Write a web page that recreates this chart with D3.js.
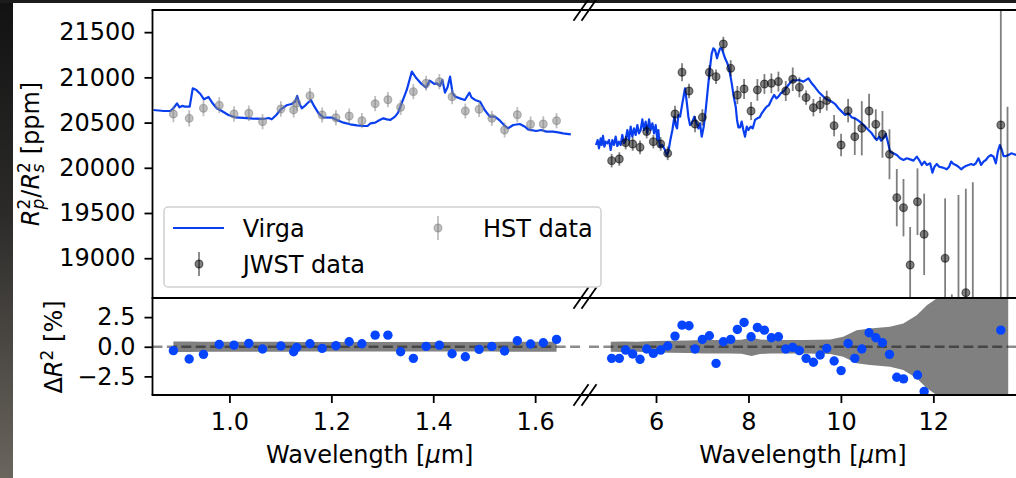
<!DOCTYPE html>
<html><head><meta charset="utf-8">
<script src="https://cdn.jsdelivr.net/npm/d3@7"></script>
<style>
body{margin:0;background:#fff;}
svg text{font-family:"DejaVu Sans";white-space:pre;}
</style>
</head><body>
<svg id="c" width="1016" height="478"></svg>
<script>
// ---------- data ----------
const virgaLeftWl = [0.851,0.871,0.884,0.890,0.897,0.902,0.907,0.913,0.922,0.928,0.935,0.943,0.950,0.959,0.967,0.975,0.985,0.998,1.011,1.027,1.047,1.067,1.077,1.083,1.092,1.101,1.112,1.122,1.129,1.133,1.137,1.142,1.148,1.153,1.160,1.166,1.175,1.184,1.201,1.211,1.224,1.237,1.250,1.263,1.271,1.277,1.286,1.295,1.302,1.309,1.316,1.325,1.331,1.338,1.348,1.358,1.367,1.377,1.386,1.393,1.402,1.407,1.413,1.418,1.423,1.428,1.433,1.438,1.443,1.452,1.462,1.471,1.475,1.482,1.492,1.501,1.511,1.521,1.531,1.539,1.547,1.557,1.570,1.580,1.586,1.602,1.612,1.622,1.635,1.645,1.655,1.670];
const virgaLeftFlux = [20639,20628,20628,20658,20713,20669,20684,20676,20676,20879,20861,20816,20757,20783,20713,20658,20628,20584,20558,20551,20543,20540,20551,20536,20584,20647,20691,20706,20731,20794,20713,20658,20684,20713,20750,20684,20602,20558,20555,20529,20499,20481,20470,20462,20462,20492,20499,20529,20547,20536,20529,20566,20610,20713,20861,21063,20990,20927,20886,20964,20927,20934,20905,20971,20831,20890,21008,20824,20787,20768,20750,20831,20779,20750,20731,20639,20566,20566,20521,20473,20437,20473,20484,20455,20425,20407,20418,20400,20400,20392,20381,20370];

const virgaRightWl = [4.701,4.737,4.766,4.802,4.824,4.853,4.882,4.911,4.947,4.983,5.019,5.055,5.091,5.127,5.163,5.199,5.235,5.271,5.307,5.343,5.380,5.416,5.452,5.488,5.524,5.560,5.596,5.632,5.668,5.704,5.740,5.776,5.812,5.849,5.885,5.921,5.957,5.993,6.029,6.051,6.079,6.137,6.195,6.231,6.267,6.310,6.354,6.397,6.426,6.455,6.483,6.520,6.570,6.628,6.664,6.700,6.736,6.772,6.830,6.880,6.916,6.952,6.989,7.032,7.075,7.118,7.162,7.205,7.241,7.277,7.320,7.349,7.385,7.421,7.458,7.494,7.544,7.587,7.638,7.681,7.724,7.753,7.782,7.818,7.854,7.890,7.926,7.963,7.999,8.049,8.092,8.143,8.193,8.244,8.287,8.337,8.395,8.445,8.503,8.554,8.605,8.648,8.698,8.756,8.807,8.864,8.922,8.966,
  9.009,9.095,9.189,9.297,9.369,9.442,9.514,9.586,9.658,9.730,9.802,9.875,9.947,10.019,10.091,10.163,10.235,10.307,10.380,10.452,10.524,10.596,10.668,10.740,10.776,10.827,10.870,10.921,10.971,11.014,11.065,11.137,11.209,11.281,11.354,11.426,11.498,11.570,11.642,11.693,11.750,11.808,11.859,11.931,11.981,12.024,12.075,12.126,12.183,12.241,12.291,12.342,12.385,12.436,12.486,12.544,12.602,12.652,12.703,12.760,12.818,12.869,12.919,12.977,13.035,13.085,13.136,13.193,13.251,13.302,13.352,13.395,13.439,13.482,13.518,13.569,13.626,13.684,13.735,13.792];
const virgaRightFlux = [20252,20307,20215,20326,20252,20352,20234,20289,20270,20307,20197,20307,20252,20344,20241,20289,20252,20363,20270,20307,20418,20307,20455,20344,20436,20363,20473,20381,20418,20536,20418,20510,20381,20536,20418,20492,20381,20473,20307,20418,20234,20252,20197,20141,20178,20307,20418,20565,20473,20436,20584,20565,20713,20879,20731,20565,20473,20492,20565,20492,20436,20492,20344,20455,20639,20860,21082,21266,21321,21303,21211,21266,21321,21321,21266,21211,21155,21082,20934,20787,20676,20529,20447,20447,20510,20418,20344,20455,20418,20455,20436,20529,20547,20558,20602,20639,20676,20694,20757,20805,20768,20787,20824,20842,20879,20916,20953,20971,
  20965,20971,20953,20989,20934,20890,20842,20805,20768,20750,20731,20705,20658,20621,20584,20602,20558,20547,20521,20492,20455,20418,20381,20326,20307,20344,20300,20326,20374,20289,20178,20160,20141,20105,20086,20105,20093,20079,20123,20086,20031,20068,20031,20049,19946,20012,20042,20012,20005,19994,19983,20012,20068,20042,20031,20012,19983,20005,20020,20031,20042,20031,20049,20105,20031,20068,20086,20123,20141,20123,20049,20178,20252,20197,20130,20130,20141,20160,20152,20141];

const hstWl = [0.890,0.921,0.949,0.980,1.009,1.038,1.065,1.101,1.126,1.132,1.158,1.182,1.209,1.235,1.260,1.286,1.311,1.336,1.361,1.386,1.412,1.437,1.463,1.490,1.515,1.540,1.565,1.591,1.616,1.642];
const hstFlux = [20595,20547,20658,20691,20595,20603,20510,20650,20640,20715,20798,20584,20554,20573,20521,20709,20753,20669,20842,20935,20952,20786,20628,20647,20547,20418,20587,20481,20484,20521];
const hstErr = [90,90,88,88,86,86,85,85,85,85,84,84,84,84,84,84,84,84,84,84,84,84,84,84,84,84,85,85,85,85];
const hstResid = [-0.33,-1.03,-0.64,0.20,0.14,0.28,-0.19,0.06,-0.42,-0.05,0.25,-0.14,0.09,0.42,0.25,0.98,0.98,-0.42,-0.98,0.03,0.14,-0.59,-0.84,-0.22,0.03,-0.36,0.51,0.23,0.34,0.62];

const jwstWl = [5.040,5.206,5.343,5.495,5.654,5.798,5.942,6.101,6.253,6.411,6.563,6.714,6.844,7.003,7.154,7.299,7.457,7.616,7.760,7.905,8.056,8.193,8.345,8.496,8.648,8.807,8.958,9.102,9.247,9.405,9.550,9.694,9.853,10.004,10.156,10.300,10.452,10.610,10.755,10.899,11.051,11.209,11.354,11.498,11.657,11.801,12.255,12.400,12.544,12.703,12.854,13.460,13.605];
const jwstFlux = [20079,20097,20278,20263,20226,20400,20289,20263,20160,20595,21056,20849,20484,20558,21056,21008,21369,21100,20805,20872,20628,20861,20927,20934,20953,20849,20979,20890,20776,20665,20695,20743,20466,20252,20632,20344,20437,20628,20481,20370,20149,19670,19559,18925,19625,19264,18999,17900,18200,18619,18300,20473,18200];
const jwstErr = [75,75,75,75,75,75,75,75,75,90,100,80,90,90,80,80,80,90,100,110,100,120,110,110,110,110,130,110,80,96,90,110,118,125,130,203,300,190,166,258,276,317,317,420,369,450,663,700,1500,1150,1540,2200,2476];
const jwstResid = [-0.98,-0.98,-0.28,-0.61,-1.06,-0.19,-0.56,-0.28,0.06,0.90,1.82,1.77,-0.19,0.62,0.93,-1.40,0.42,0.62,1.46,2.05,0.84,1.63,1.40,0.76,0.84,-0.19,-0.05,-0.33,-0.98,-1.31,-0.70,-0.14,-1.20,-2.01,0.28,-0.98,-0.19,1.18,0.76,0.34,-0.64,-2.57,-2.71,-5.6,-2.38,-3.78,-5.0,-10.5,-9.0,-7.0,-8.6,1.40,-9.9];

// JWST uncertainty envelope in the residual panel (% of model)
const jwstBandWl  = [5.02,5.30,5.58,6.00,6.30,6.70,7.02,7.60,7.85,8.07,8.25,8.47,9.19,9.77,10.05,10.34,10.63,11.06,11.35,11.64,11.86,12.07,12.29,13.62];
const jwstBandPct = [0.42,0.45,0.42,0.48,0.50,0.52,0.56,0.56,0.60,0.78,0.62,0.56,0.56,0.62,0.84,1.40,1.54,1.68,1.96,2.66,3.50,4.06,6.00,6.00];

const yTicksTop = [19000,19500,20000,20500,21000,21500];
const yTicksBot = [-2.5,0.0,2.5];
const xTicksLeft = [1.0,1.2,1.4,1.6];
const xTicksRight = [6,8,10,12];

const legendLabels = ["Virga","JWST data","HST data"];
const xLabel = ["Wavelength [","μ","m]"];

// ---------- layout ----------
const svg = d3.select("#c");
const FS = 24, FSS = 17;
const LINE_C = "#0a3ff0", DOT_C = "#0645ff";
const PL = {x0:152.5, x1:581}, PR = {x0:589, x1:1017};
const TOP = {y0:10, y1:298}, BOT = {y0:298.5, y1:395};

const xL = d3.scaleLinear().domain([0.849,1.690]).range([PL.x0,PL.x1]);
const xR = d3.scaleLinear().domain([4.55,13.81]).range([PR.x0,PR.x1]);
const yT = d3.scaleLinear().domain([18560,21745]).range([TOP.y1,TOP.y0]);
const yB = d3.scaleLinear().domain([-4.07,4.07]).range([BOT.y1,BOT.y0]);

const defs = svg.append("defs");
const grad = defs.append("linearGradient").attr("id","bg").attr("x1",0).attr("y1",0).attr("x2",0).attr("y2",1);
grad.append("stop").attr("offset","0%").attr("stop-color","#121212");
grad.append("stop").attr("offset","45%").attr("stop-color","#2c2b2a");
grad.append("stop").attr("offset","100%").attr("stop-color","#6a655d");
svg.append("rect").attr("x",0).attr("y",0).attr("width",13).attr("height",478).attr("fill","url(#bg)");
svg.append("rect").attr("x",0).attr("y",0).attr("width",1016).attr("height",3).attr("fill","#1c1c1c");

function clip(id,p,r){
  defs.append("clipPath").attr("id",id).append("rect")
    .attr("x",p.x0).attr("y",r.y0).attr("width",p.x1-p.x0).attr("height",r.y1-r.y0);
}
clip("cTL",PL,TOP); clip("cTR",PR,TOP); clip("cBL",PL,BOT); clip("cBR",PR,BOT);

const gTL = svg.append("g").attr("clip-path","url(#cTL)");
const gTR = svg.append("g").attr("clip-path","url(#cTR)");
const gBL = svg.append("g").attr("clip-path","url(#cBL)");
const gBR = svg.append("g").attr("clip-path","url(#cBR)");

// ---------- top panel ----------
function modelLine(g,x,wl,fl){
  g.append("path").datum(wl.map((w,i)=>[w,fl[i]]))
   .attr("fill","none").attr("stroke",LINE_C).attr("stroke-width",2.2).attr("stroke-linejoin","round")
   .attr("d",d3.line().x(d=>x(d[0])).y(d=>yT(d[1])));
}
function errPoints(g,x,wl,fl,er,col,r){
  const data = wl.map((w,i)=>({w,f:fl[i],e:er[i]}));
  const gg = g.append("g");
  gg.selectAll("line").data(data).join("line")
    .attr("x1",d=>x(d.w)).attr("x2",d=>x(d.w))
    .attr("y1",d=>yT(d.f-d.e)).attr("y2",d=>yT(d.f+d.e))
    .attr("stroke",col).attr("stroke-opacity",0.5).attr("stroke-width",1.8);
  gg.selectAll("circle").data(data).join("circle")
    .attr("cx",d=>x(d.w)).attr("cy",d=>yT(d.f)).attr("r",r)
    .attr("fill",col).attr("fill-opacity",0.5)
    .attr("stroke",col).attr("stroke-opacity",0.5).attr("stroke-width",1.2);
}
modelLine(gTL,xL,virgaLeftWl,virgaLeftFlux);
modelLine(gTR,xR,virgaRightWl,virgaRightFlux);
errPoints(gTL,xL,hstWl,hstFlux,hstErr,"#808080",3.9);
errPoints(gTR,xR,jwstWl,jwstFlux,jwstErr,"#000",3.9);

// ---------- residual panel ----------
const bandL = hstWl.map((w,i)=>({w,p:hstErr[i]/hstFlux[i]*100}));
const bandR = jwstBandWl.map((w,i)=>({w,p:jwstBandPct[i]}));
function band(g,x,d){
  g.append("path").datum(d).attr("fill","#808080")
   .attr("d",d3.area().x(v=>x(v.w)).y0(v=>yB(-v.p)).y1(v=>yB(v.p)));
}
band(gBL,xL,bandL); band(gBR,xR,bandR);
function zeroLine(g,p){
  g.append("line").attr("x1",p.x0).attr("x2",p.x1).attr("y1",yB(0)).attr("y2",yB(0))
   .attr("stroke","#000").attr("stroke-opacity",0.45).attr("stroke-width",2.6).attr("stroke-dasharray","10,4.4");
}
zeroLine(gBL,PL); zeroLine(gBR,PR);
function dots(g,x,wl,rs){
  g.selectAll("circle.r").data(wl.map((w,i)=>({w,r:rs[i]}))).join("circle").attr("class","r")
   .attr("cx",d=>x(d.w)).attr("cy",d=>yB(d.r)).attr("r",4.7).attr("fill",DOT_C);
}
dots(gBL,xL,hstWl,hstResid); dots(gBR,xR,jwstWl,jwstResid);

// ---------- axes ----------
function styleAxis(g){
  g.select(".domain").remove();
  g.selectAll(".tick line").attr("stroke","#000").attr("stroke-width",1.8);
  g.selectAll(".tick text").attr("font-family","DejaVu Sans").attr("font-size",FS).attr("fill","#000");
}
svg.append("g").attr("transform",`translate(${PL.x0},0)`)
  .call(d3.axisLeft(yT).tickValues(yTicksTop).tickFormat(d3.format("d")).tickSize(8).tickPadding(9)).call(styleAxis);
svg.append("g").attr("transform",`translate(${PL.x0},0)`)
  .call(d3.axisLeft(yB).tickValues(yTicksBot).tickFormat(d3.format(".1f")).tickSize(8).tickPadding(9)).call(styleAxis);
svg.append("g").attr("transform",`translate(0,${BOT.y1})`)
  .call(d3.axisBottom(xL).tickValues(xTicksLeft).tickFormat(d3.format(".1f")).tickSize(8).tickPadding(9.5)).call(styleAxis);
svg.append("g").attr("transform",`translate(0,${BOT.y1})`)
  .call(d3.axisBottom(xR).tickValues(xTicksRight).tickFormat(d3.format("d")).tickSize(8).tickPadding(9.5)).call(styleAxis);

// spines
const sp = svg.append("g").attr("stroke","#000").attr("stroke-width",1.8).attr("fill","none");
sp.append("line").attr("x1",PL.x0).attr("x2",PL.x0).attr("y1",TOP.y0).attr("y2",BOT.y1);
[TOP.y0, TOP.y1, BOT.y1].forEach(y=>{
  sp.append("line").attr("x1",PL.x0-0.9).attr("x2",PR.x1).attr("y1",y).attr("y2",y);
});
// break marks
[TOP.y0, TOP.y1, BOT.y1].forEach(y=>{
  [PL.x1, PR.x0].forEach(x=>{
    sp.append("line").attr("x1",x-7.5).attr("y1",y+10.8).attr("x2",x+7.5).attr("y2",y-10.8);
  });
});

// ---------- legend ----------
const lg = svg.append("g");
lg.append("rect").attr("x",164).attr("y",207).attr("width",437).attr("height",80).attr("rx",4)
  .attr("fill","#fff").attr("fill-opacity",0.8).attr("stroke","#d0d0d0").attr("stroke-width",1.5);
lg.append("line").attr("x1",173).attr("x2",224).attr("y1",228).attr("y2",228).attr("stroke",LINE_C).attr("stroke-width",2.2);
function legMarker(cx,cy,col){
  lg.append("line").attr("x1",cx).attr("x2",cx).attr("y1",cy-12).attr("y2",cy+12)
    .attr("stroke",col).attr("stroke-opacity",0.5).attr("stroke-width",1.8);
  lg.append("circle").attr("cx",cx).attr("cy",cy).attr("r",3.9).attr("fill",col).attr("fill-opacity",0.5)
    .attr("stroke",col).attr("stroke-opacity",0.5).attr("stroke-width",1.2);
}
legMarker(199,264,"#000");
legMarker(438,228,"#808080");
const legPos = [[242.7,236.8],[242.7,272.8],[483,236.8]];
legendLabels.forEach((t,i)=>{
  lg.append("text").attr("x",legPos[i][0]).attr("y",legPos[i][1]).attr("font-size",FS).attr("fill","#000").text(t);
});

// ---------- labels ----------
function xlab(cx){
  const t = svg.append("text").attr("x",cx).attr("y",462.5).attr("text-anchor","middle").attr("font-size",FS).attr("fill","#000");
  t.append("tspan").text(xLabel[0]);
  t.append("tspan").attr("font-style","italic").text(xLabel[1]);
  t.append("tspan").text(xLabel[2]);
}
xlab((PL.x0+PL.x1)/2+3);
xlab(803);

const yl = svg.append("text").attr("transform","translate(39,154) rotate(-90)")
  .attr("text-anchor","middle").attr("font-size",FS).attr("fill","#000");
yl.append("tspan").attr("font-style","italic").text("R");
yl.append("tspan").attr("font-size",FSS).attr("dy",-9.5).text("2");
yl.append("tspan").attr("font-size",FSS).attr("font-style","italic").attr("dx",-10.8).attr("dy",14.5).text("p");
yl.append("tspan").attr("dx",1).attr("dy",-5).text("/");
yl.append("tspan").attr("font-style","italic").text("R");
yl.append("tspan").attr("font-size",FSS).attr("dy",-9.5).text("2");
yl.append("tspan").attr("font-size",FSS).attr("font-style","italic").attr("dx",-10.8).attr("dy",14.5).text("s");
yl.append("tspan").attr("dx",2).attr("dy",-5).text(" [ppm]");

const yl2 = svg.append("text").attr("transform","translate(62,347) rotate(-90)")
  .attr("text-anchor","middle").attr("font-size",FS).attr("fill","#000");
yl2.append("tspan").text("Δ");
yl2.append("tspan").attr("font-style","italic").text("R");
yl2.append("tspan").attr("font-size",FSS).attr("dy",-9.5).text("2");
yl2.append("tspan").attr("dy",9.5).text(" [%]");
</script>
</body></html>
